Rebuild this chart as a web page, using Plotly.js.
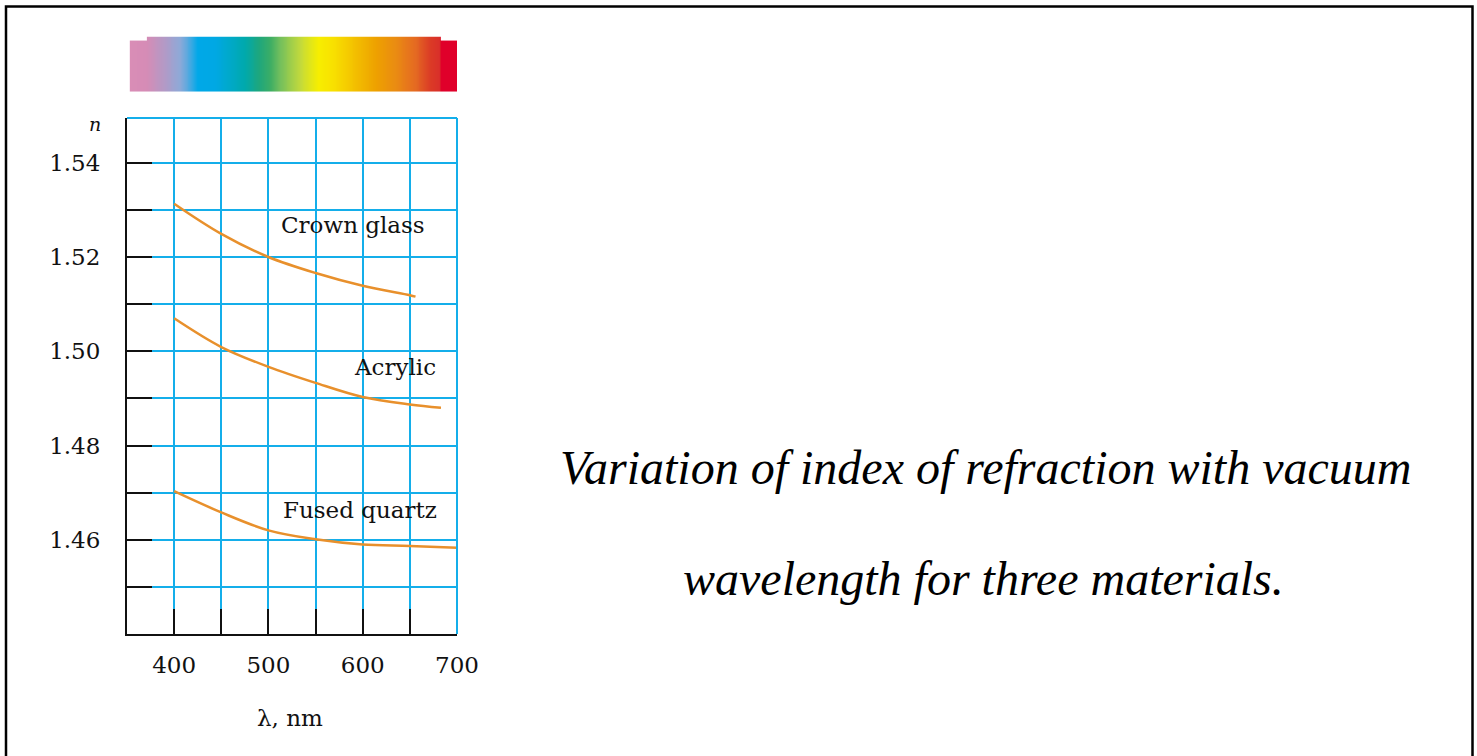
<!DOCTYPE html>
<html>
<head>
<meta charset="utf-8">
<script src="https://cdn.plot.ly/plotly-3.0.1.min.js"></script>
<style>html,body{margin:0;padding:0;background:#fff;}#chart{width:1477px;height:756px;}</style>
</head>
<body>
<div id="chart"></div>
<script>
// ---- data ----
const crownNm   = [400, 450, 500, 550, 600, 650, 656];
const crownN    = [1.5313, 1.5249, 1.5200, 1.5166, 1.5139, 1.5119, 1.5116];
const acrylicNm = [400, 450, 500, 550, 600, 650, 683];
const acrylicN  = [1.5070, 1.5009, 1.4967, 1.4933, 1.4903, 1.4887, 1.4880];
const quartzNm  = [400, 450, 500, 550, 600, 650, 700];
const quartzN   = [1.4703, 1.4658, 1.4620, 1.4601, 1.4590, 1.4587, 1.4583];

const materialNames = ['Crown glass', 'Acrylic', 'Fused quartz'];
const labelNm = [590, 634, 597];
const labelN  = [1.5268, 1.4966, 1.4664];

const xTickVals = [400, 450, 500, 550, 600, 650, 700];
const xTickText = ['400', '', '500', '', '600', '', '700'];
const yTickVals = [1.45, 1.46, 1.47, 1.48, 1.49, 1.50, 1.51, 1.52, 1.53, 1.54];
const yTickText = ['', '1.46', '', '1.48', '', '1.50', '', '1.52', '', '1.54'];

// visible spectrum strip: wavelength stops and their colours
const spectrumStopNm = [353, 371, 390, 406, 418, 425, 444, 460, 475, 490, 503, 512, 534, 553, 571, 592, 614, 635, 656, 672, 682, 683, 701];
const spectrumStopColor = ['#d98db6', '#d68cb6', '#b39ac6', '#8fa9d8', '#3fa9e2', '#00a8e8', '#00a8e4', '#00a9c8', '#00a9ad', '#1ea77e', '#3fae64', '#72bf5e', '#c4da3c', '#f7ef00', '#f8df00', '#f3c000', '#eea200', '#ea8c12', '#e56a22', '#db3b26', '#d9302a', '#e0002a', '#e0002a'];
const spectrumStart = 353, spectrumEnd = 701, spectrumTallFrom = 371, spectrumTallTo = 683;

// ---- build spectrum heatmap ----
const nmin = spectrumStopNm[0], nmax = spectrumStopNm[spectrumStopNm.length - 1];
const colorscale = spectrumStopNm.map((v, i) => [(v - nmin) / (nmax - nmin), spectrumStopColor[i]]);
const edges = [];
for (let v = spectrumStart; v <= spectrumEnd; v += 1) edges.push(v);
const centers = edges.slice(0, -1).map(v => v + 0.5);
const rowLow = centers.slice();
const rowTop = centers.map(c => (c >= spectrumTallFrom && c <= spectrumTallTo) ? c : null);

const orange = '#e8902c';
const serif = 'DejaVu Serif, serif';

const traces = [
  {type: 'heatmap', x: edges, y: [0, 51, 54.5], z: [rowLow, rowTop], xaxis: 'x2', yaxis: 'y2',
   colorscale: colorscale, zmin: nmin, zmax: nmax, showscale: false, hoverinfo: 'skip'},
  {type: 'scatter', mode: 'lines', x: crownNm, y: crownN, name: materialNames[0],
   line: {color: orange, width: 2.5, shape: 'spline'}},
  {type: 'scatter', mode: 'lines', x: acrylicNm, y: acrylicN, name: materialNames[1],
   line: {color: orange, width: 2.5, shape: 'spline'}},
  {type: 'scatter', mode: 'lines', x: quartzNm, y: quartzN, name: materialNames[2],
   line: {color: orange, width: 2.5, shape: 'spline'}}
];

const gridBlue = '#14aeea';

const annotations = materialNames.map((t, i) => ({
  text: t, x: labelNm[i], y: labelN[i], xref: 'x', yref: 'y', showarrow: false,
  xanchor: 'center', yanchor: 'middle',
  font: {family: serif, size: 23, color: '#111'}
}));
annotations.push(
  {text: '<i>n</i>', xref: 'paper', yref: 'paper', x: (95 - 127) / 330, y: (634 - 124) / 604,
   xanchor: 'center', yanchor: 'middle',
   showarrow: false, font: {family: serif, size: 19, color: '#111'}},
  {text: 'λ, nm', xref: 'paper', yref: 'paper', x: (290 - 127) / 330, y: (634 - 718) / 604,
   xanchor: 'center', yanchor: 'middle',
   showarrow: false, font: {family: serif, size: 23, color: '#111'}},
  {text: 'Variation of index of refraction with vacuum', xref: 'paper', yref: 'paper',
   x: (985 - 127) / 330, y: (634 - 467) / 604, showarrow: false,
   xanchor: 'center', yanchor: 'middle',
   font: {family: 'Liberation Serif, serif', size: 48, color: '#000', style: 'italic'}},
  {text: 'wavelength for three materials.', xref: 'paper', yref: 'paper',
   x: (983 - 127) / 330, y: (634 - 578) / 604, showarrow: false,
   xanchor: 'center', yanchor: 'middle',
   font: {family: 'Liberation Serif, serif', size: 48, color: '#000', style: 'italic'}}
);

const layout = {
  width: 1477, height: 756, autosize: false,
  margin: {l: 127, r: 1020, t: 30, b: 122, pad: 0},
  paper_bgcolor: '#fff', plot_bgcolor: '#fff',
  showlegend: false,
  xaxis: {
    domain: [0, 1], range: [350, 700], anchor: 'y',
    tickmode: 'array', tickvals: xTickVals, ticktext: xTickText,
    ticks: 'inside', ticklen: 25, tickwidth: 2, tickcolor: '#111',
    showgrid: true, gridcolor: gridBlue, gridwidth: 2,
    showline: true, linecolor: '#111', linewidth: 2, zeroline: false,
    ticklabelstandoff: 9,
    tickfont: {family: serif, size: 23, color: '#111'}
  },
  yaxis: {
    domain: [0, 0.8543], range: [1.44, 1.5495], anchor: 'x',
    tickmode: 'array', tickvals: yTickVals, ticktext: yTickText,
    ticks: 'inside', ticklen: 25, tickwidth: 2, tickcolor: '#111',
    showgrid: true, gridcolor: gridBlue, gridwidth: 2,
    showline: true, linecolor: '#111', linewidth: 2, zeroline: false,
    ticklabelstandoff: 20,
    tickfont: {family: serif, size: 23, color: '#111'}
  },
  xaxis2: {domain: [0, 1], range: [350, 700], anchor: 'y2', visible: false, fixedrange: true},
  yaxis2: {domain: [0.8974, 0.9892], range: [0, 54.5], anchor: 'x2', visible: false, fixedrange: true},
  shapes: [
    {type: 'line', xref: 'x domain', yref: 'y domain', x0: 0, x1: 1, y0: 1, y1: 1,
     line: {color: gridBlue, width: 2}, layer: 'above'},
    {type: 'line', xref: 'x domain', yref: 'y domain', x0: 1, x1: 1, y0: 0, y1: 1,
     line: {color: gridBlue, width: 2}, layer: 'above'},
    {type: 'rect', xref: 'paper', yref: 'paper',
     x0: (6 - 127) / 330, x1: (1472.5 - 127) / 330, y0: (634 - 780) / 604, y1: (634 - 6.5) / 604,
     line: {color: '#000', width: 2.5}, fillcolor: 'rgba(0,0,0,0)', layer: 'above'}
  ],
  annotations: annotations
};

Plotly.newPlot('chart', traces, layout, {staticPlot: true, displayModeBar: false});
</script>
</body>
</html>
